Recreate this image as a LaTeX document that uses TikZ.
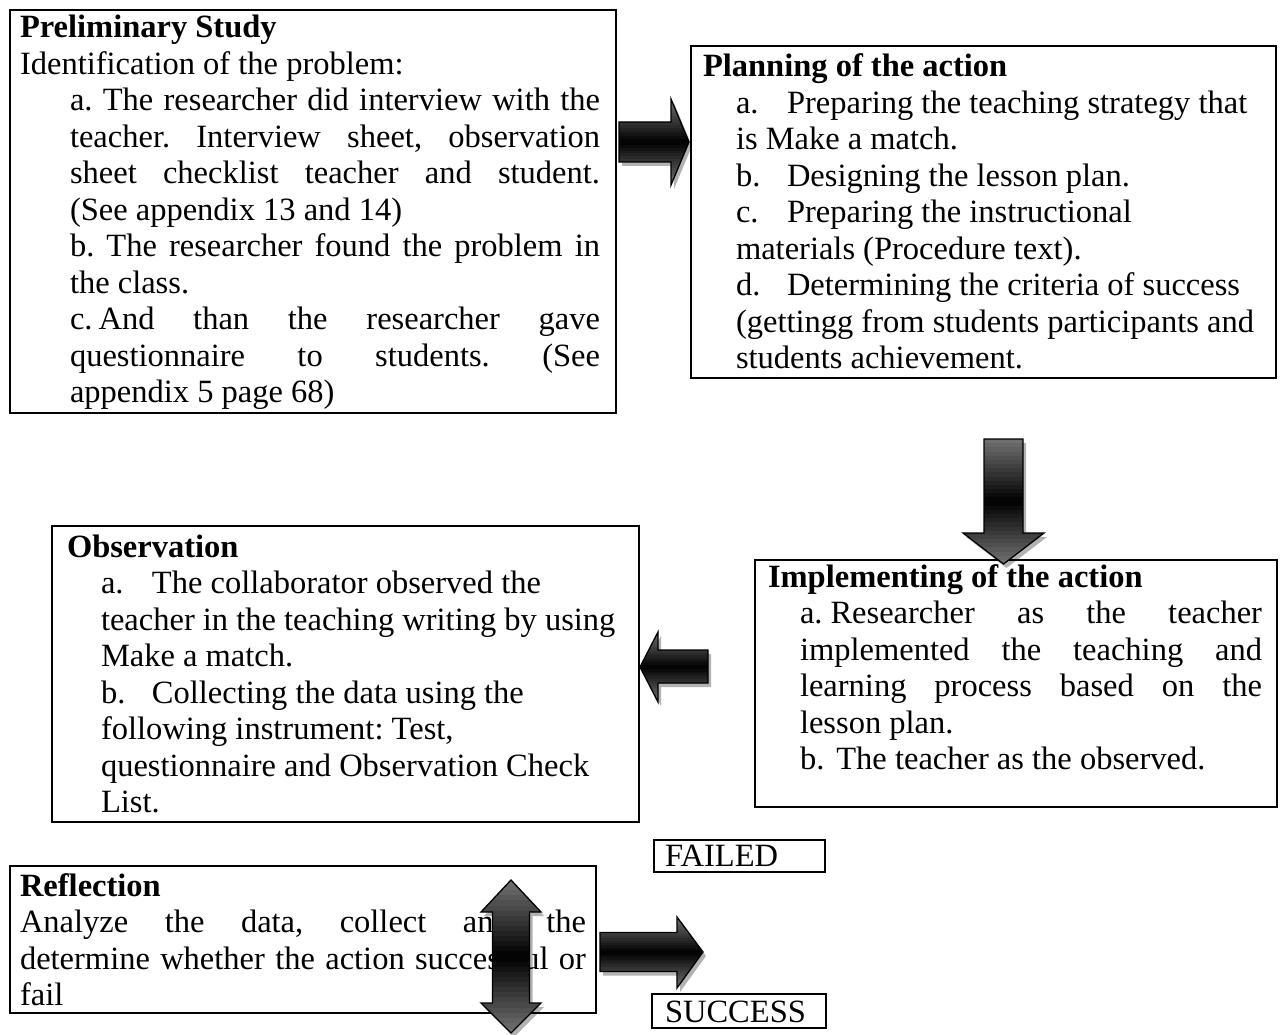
\documentclass[tikz,border=0pt]{standalone}
\usepackage{fontspec}
\setmainfont{Liberation Serif}
\setlength{\parindent}{0pt}
\hyphenpenalty=10000
\exhyphenpenalty=10000
\frenchspacing
\newcommand{\tablbl}[1]{\makebox[51pt][l]{#1}}
% block arrow: shadow, banded gradient (grey - black - grey), outline
\newcommand{\gradarrow}[3]{%
  \fill[arrowshadow] #1;
  \begin{scope}
    \clip #1;
    \foreach \k in {0,...,29}{
      \pgfmathsetmacro{\lvl}{100-45*abs(2*(\k+0.5)/30-1)}
      \fill[black!\lvl] (0,{#2+(#3-#2)*\k/30}) rectangle (1283,{#2+(#3-#2)*(\k+1)/30+0.6});
    }
  \end{scope}
  \draw[arrowline] #1;
}

\begin{document}
\begin{tikzpicture}[
    x=1pt, y=-1pt,
    every node/.style={font=\fontsize{32.5}{36.5}\selectfont},
    stage/.style={draw, line width=1.6pt, fill=white, anchor=north west,
                  inner ysep=0pt, outer sep=0pt},
    verdict/.style={stage, align=left},
    arrowshadow/.style={fill=black, opacity=0.3, xshift=3pt, yshift=-4pt},
    arrowline/.style={draw=black, line width=1.3pt, line join=miter}
]
\path[use as bounding box, fill=white] (0,0) rectangle (1283,1035);

% ---- cycle stages ----
\node[stage, align=justify, text width=586pt, inner xsep=10pt,
      text height=28pt, text depth=375pt] (prelim) at (10,10) {%
\textbf{Preliminary Study}\par
Identification of the problem:\par
\leftskip=50pt \rightskip=6pt
a. The researcher did interview with the\linebreak
teacher. Interview sheet, observation\linebreak
sheet checklist teacher and student.\linebreak
(See appendix 13 and 14)\par
b. The researcher found the problem in\linebreak
the class.\par
c.\hspace{6pt}And than the researcher gave\linebreak
questionnaire to students. (See\linebreak
appendix 5 page 68)\par};

\node[stage, align=left, text width=561pt, inner xsep=12pt,
      text height=31pt, text depth=301pt] (planning) at (691,46) {%
\spaceskip=0pt \xspaceskip=0pt
\textbf{Planning of the action}\par
\leftskip=33pt
\tablbl{a.}Preparing the teaching strategy that\newline
is Make a match.\par
\tablbl{b.}Designing the lesson plan.\par
\tablbl{c.}Preparing the instructional\newline
materials (Procedure text).\par
\tablbl{d.}Determining the criteria of success\newline
(gettingg from students participants and\newline
students achievement.\par};

\node[stage, align=left, text width=557pt, inner xsep=15pt,
      text height=31pt, text depth=265pt] (observation) at (52,526) {%
\spaceskip=0pt \xspaceskip=0pt
\textbf{Observation}\par
\leftskip=34pt
\tablbl{a.}The collaborator observed the\newline
teacher in the teaching writing by using\newline
Make a match.\par
\tablbl{b.}Collecting the data using the\newline
following instrument: Test,\newline
questionnaire and Observation Check\newline
List.\par};

\node[stage, align=justify, text width=496pt, inner xsep=13pt,
      text height=27pt, text depth=220pt] (implementing) at (755,560) {%
\textbf{Implementing of the action}\par
\leftskip=32pt \rightskip=2pt
a.\hspace{8pt}Researcher as the teacher\linebreak
implemented the teaching and\linebreak
learning process based on the\linebreak
lesson plan.\par
b.\hspace{12pt}The teacher as the observed.\par};

\node[stage, align=justify, text width=566pt, inner xsep=10pt,
      text height=30pt, text depth=117pt] (reflection) at (10,866) {%
\textbf{Reflection}\par
Analyze the data, collect and the\linebreak
determine whether the action successful or\linebreak
fail\par};

% ---- outcomes ----
\node[verdict, text width=149pt, inner xsep=11pt,
      text height=26pt, text depth=6pt] (failed) at (654,840) {FAILED};
\node[verdict, text width=148pt, inner xsep=13pt,
      text height=28pt, text depth=6pt] (success) at (652,994) {SUCCESS};

% ---- block arrows ----
\gradarrow{(619,122) -- (671,122) -- (671,99) -- (689,142)
  -- (671,185) -- (671,162) -- (619,162) -- cycle}{99}{185}
\gradarrow{(984,439) -- (1023,439) -- (1023,533) -- (1044,533)
  -- (1003.5,564) -- (963,533) -- (984,533) -- cycle}{439}{564}
\gradarrow{(708,650) -- (658,650) -- (658,632) -- (640,667)
  -- (658,702) -- (658,683) -- (708,683) -- cycle}{632}{702}
\gradarrow{(511,880) -- (541,912) -- (529.5,912) -- (529.5,1003)
  -- (541,1003) -- (511,1033) -- (481,1003) -- (492.5,1003)
  -- (492.5,912) -- (481,912) -- cycle}{880}{1033}
\gradarrow{(600,932.5) -- (677,932.5) -- (677,917) -- (703,952)
  -- (677,988) -- (677,971.5) -- (600,971.5) -- cycle}{917}{988}
\end{tikzpicture}
\end{document}
